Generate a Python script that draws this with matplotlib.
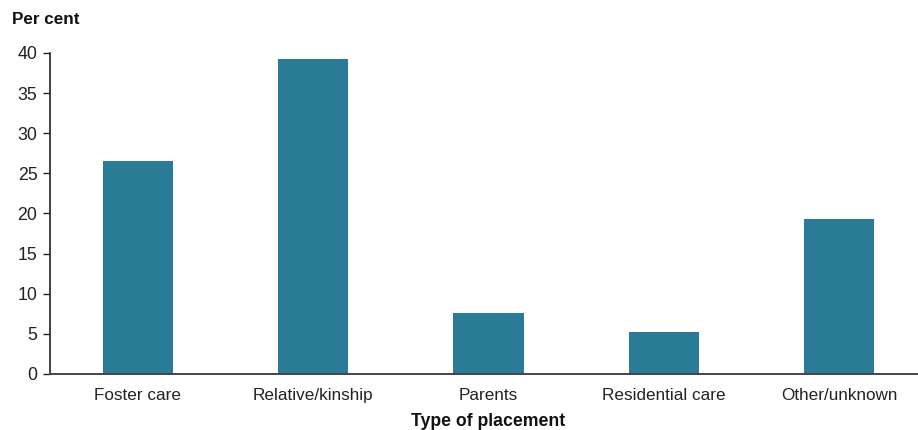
import matplotlib.pyplot as plt
import numpy as np

plt.rcParams['font.family'] = ['Liberation Sans', 'DejaVu Sans']

# categories and values (per cent)
placements = ['Foster care', 'Relative/kinship', 'Parents', 'Residential care', 'Other/unknown']
per_cent = [26.6, 39.3, 7.6, 5.2, 19.3]
yticks = [0, 5, 10, 15, 20, 25, 30, 35, 40]

W, H = 918, 430
fig = plt.figure(figsize=(W / 100, H / 100), dpi=100)
# axes box: y-axis at x=50, zero at y=374, 40 at y=53
ax = fig.add_axes([50 / W, (H - 374) / H, 877 / W, 321 / H])

x = np.arange(len(placements))
ax.bar(x, per_cent, width=0.4, color='#2a7b96', zorder=2)

ax.set_xlim(-0.5, len(placements) - 0.5)
ax.set_ylim(0, 40)
ax.set_yticks(yticks)
ax.set_xticks(x)
ax.set_xticklabels(placements)

for s in ['top', 'right']:
    ax.spines[s].set_visible(False)
ax.spines['left'].set_color('#222222')
ax.spines['bottom'].set_color('#444444')
ax.spines['left'].set_linewidth(1.2)
ax.spines['bottom'].set_linewidth(1.4)

ax.tick_params(axis='y', length=5, width=1, color='#222222', labelsize=12.8, pad=4, labelcolor='#222222')
ax.tick_params(axis='x', length=0, labelsize=12.3, pad=10, labelcolor='#222222')

fig.text(12 / W, 1 - 19 / H, 'Per cent', fontsize=12.3, fontweight='bold', va='center', ha='left', color='#111111')
fig.text(488 / W, 1 - 422 / H, 'Type of placement', fontsize=12.7, fontweight='bold', va='center', ha='center', color='#111111')

fig.savefig('out.png', dpi=100)
